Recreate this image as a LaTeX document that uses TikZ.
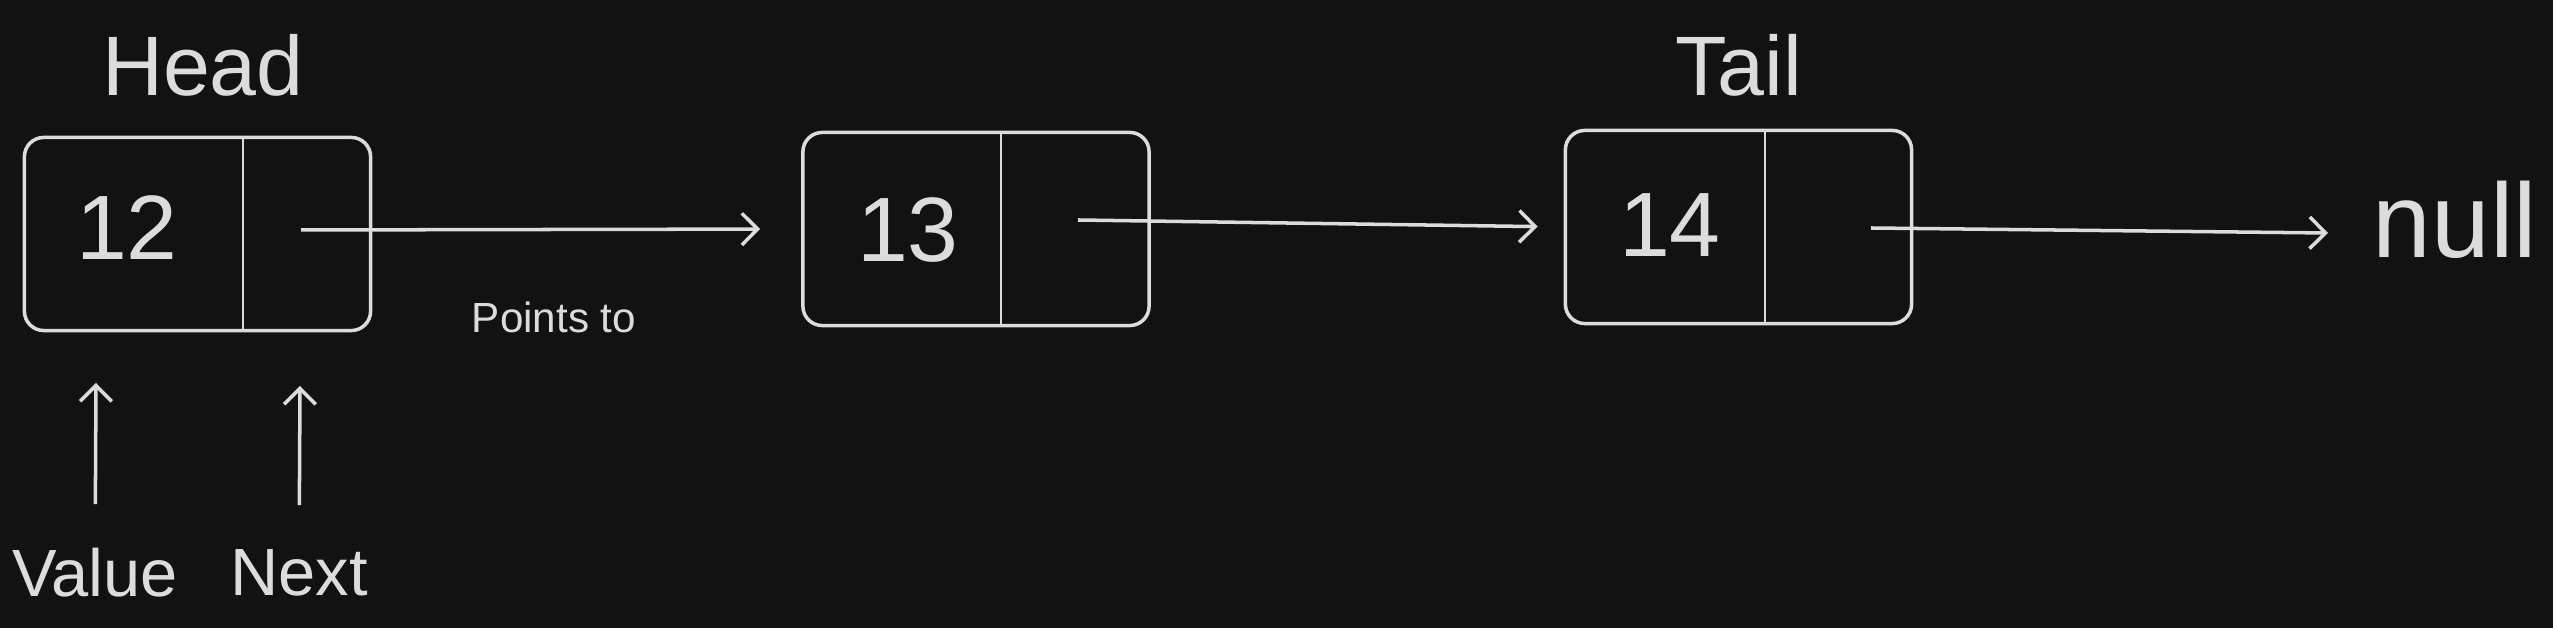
\documentclass[tikz,border=0pt]{standalone}
\usepackage{fontspec}
\setmainfont{Liberation Sans}
\usetikzlibrary{arrows.meta,positioning}
\definecolor{board}{HTML}{121212}
\definecolor{chalk}{HTML}{DCDCDC}

\begin{document}
\begin{tikzpicture}[x=0.01cm,y=-0.01cm,
		every node/.style={text=chalk},
		nodebox/.style={draw=chalk,line width=1pt,rounded corners=5.5pt,minimum width=3.46cm,minimum height=1.93cm},
		cell/.style={draw=chalk,line width=0.8pt},
		ptr/.style={draw=chalk,line width=1pt,-{Straight Barb[length=4.5pt,width=9pt]}},
		val/.style={font=\fontsize{26}{30}\selectfont},
		tag/.style={font=\fontsize{24}{28}\selectfont},
		side/.style={font=\fontsize{19}{23}\selectfont}]
	\fill[board] (0,0) rectangle (2553,628);
	\useasboundingbox (0,0) rectangle (2553,628);

	\node[nodebox] (n1) at (197.5,234) {};
	\node[nodebox] (n2) at (976,229) {};
	\node[nodebox] (n3) at (1738.5,227) {};

	\coordinate (d1) at (243,0);
	\coordinate (d2) at (1001,0);
	\coordinate (d3) at (1765,0);
	\draw[cell] (d1 |- n1.north) -- (d1 |- n1.south);
	\draw[cell] (d2 |- n2.north) -- (d2 |- n2.south);
	\draw[cell] (d3 |- n3.north) -- (d3 |- n3.south);

	\node[val] (v1) at (127,228) {12};
	\node[val] (v2) at (908,230) {13};
	\node[val] (v3) at (1670,225) {14};

	\node[tag] (head) at (203,65) {Head};
	\node[tag] (tail) at (1739,65) {Tail};
	\node[font=\fontsize{30}{36}\selectfont] (null) at (2455,220) {null};
	\node[font=\fontsize{12}{14}\selectfont] (pts) at (554,317) {Points to};

	\coordinate (p1) at (301,230);
	\coordinate (p2) at (1078,220);
	\coordinate (p3) at (1871,228);
	\coordinate (q3) at (2328,233);
	\draw[ptr,shorten >=0.41cm] (p1) -- (n2.west);
	\draw[ptr,shorten >=0.26cm] (p2) -- (n3.west);
	\draw[ptr] (p3) -- (q3);

	\node[side] (val) at (95,573) {Value};
	\node[side] (nxt) at (299,573) {Next};
	\coordinate (vtip) at (96,383);
	\coordinate (ntip) at (300,386);
	\draw[ptr,shorten <=0.32cm] (val) -- (vtip);
	\draw[ptr,shorten <=0.32cm] (nxt) -- (ntip);
\end{tikzpicture}
\end{document}
